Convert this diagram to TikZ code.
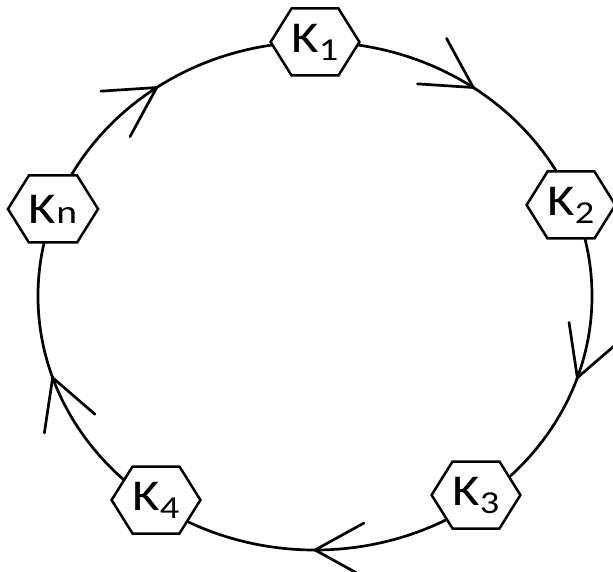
\documentclass[tikz,border=0pt]{standalone}
\usepackage{fontspec}
\newfontfamily\kfont[FakeStretch=1.2]{Carlito}
\usetikzlibrary{shapes.symbols,decorations.markings,backgrounds}
\begin{document}
\begin{tikzpicture}[x=1pt,y=1pt,
  hexnode/.style={signal, signal to=east and west, signal pointer angle=116, draw,
    line width=2.5pt, fill=white, minimum width=88pt, minimum height=67pt, inner sep=0pt,
    font=\kfont\fontsize{44}{44}\selectfont},
  ring/.style={line width=2.7pt},
  chev/.style={line width=2.7pt, line cap=round, line join=miter}]
\newcommand\ksub[1]{\raisebox{-8pt}{\fontsize{32}{32}\selectfont #1}}
\useasboundingbox (0,0) rectangle (613,571);
\node[hexnode] (K1) at (315,529) {K\ksub{1}};
\node[hexnode] (K2) at (571,366) {K\ksub{2}};
\node[hexnode] (K3) at (476,76) {K\ksub{3}};
\node[hexnode] (K4) at (156,71) {K\ksub{4}};
\node[hexnode] (Kn) at (53,362) {K{\fontsize{33}{33}\selectfont n}};
\begin{scope}[on background layer]
\draw[ring, postaction={decorate}, decoration={markings,
    mark=at position 0.1 with {\draw[chev] (-49,27) -- (0,0) -- (-49,-27);},
    mark=at position 0.3 with {\draw[chev] (-49,27) -- (0,0) -- (-49,-27);},
    mark=at position 0.5 with {\draw[chev] (-49,27) -- (0,0) -- (-49,-27);},
    mark=at position 0.7 with {\draw[chev] (-49,27) -- (0,0) -- (-49,-27);},
    mark=at position 0.9 with {\draw[chev] (-49,27) -- (0,0) -- (-49,-27);}}]
  (K1.center) arc[start angle=90, end angle=-270, x radius=277, y radius=254];
\end{scope}
\end{tikzpicture}
\end{document}
